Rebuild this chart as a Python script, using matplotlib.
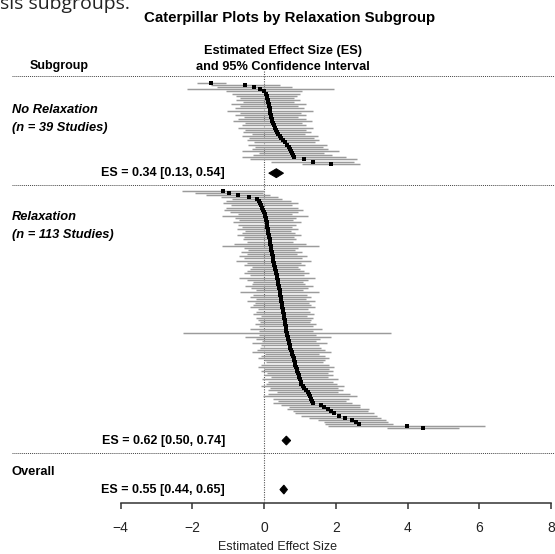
import matplotlib
matplotlib.use("Agg")
import matplotlib.pyplot as plt
from matplotlib.transforms import blended_transform_factory
from matplotlib.patches import Polygon

plt.rcParams['font.family'] = ['Liberation Sans', 'DejaVu Sans']

# ---------------- data ----------------
title = "Caterpillar Plots by Relaxation Subgroup"
xticks = [-4, -2, 0, 2, 4, 6, 8]
xlabel = "Estimated Effect Size"

# No Relaxation group (39 studies), sorted by effect size
norel_es = [-1.47, -0.52, -0.27, -0.11, 0.00, 0.04, 0.07, 0.09, 0.11, 0.12,
            0.13, 0.14, 0.15, 0.16, 0.17, 0.18, 0.19, 0.21, 0.23, 0.26,
            0.28, 0.31, 0.33, 0.36, 0.40, 0.44, 0.48, 0.52, 0.58, 0.64,
            0.70, 0.72, 0.74, 0.77, 0.80, 0.84, 1.10, 1.35, 1.86]
norel_hw = [0.40, 0.95, 1.05, 2.05, 1.05, 0.95, 0.85, 0.75, 0.90, 0.70,
            1.05, 0.80, 0.95, 1.20, 0.85, 1.00, 0.75, 0.95, 1.10, 0.80,
            0.90, 1.05, 0.85, 0.95, 0.75, 1.05, 0.90, 1.00, 0.85, 1.10,
            0.95, 1.05, 1.35, 0.90, 1.10, 1.45, 1.50, 1.15, 0.80]
norel_pool = (0.34, 0.13, 0.54)

# Relaxation group (113 studies), sorted by effect size
rel_es = [-1.15, -0.98, -0.73, -0.41, -0.20, -0.15, -0.11, -0.08, -0.05, -0.02,
          0.00, 0.02, 0.03, 0.04, 0.05, 0.07, 0.08, 0.09, 0.10, 0.11,
          0.12, 0.13, 0.14, 0.15, 0.16, 0.17, 0.18, 0.19, 0.20, 0.21,
          0.23, 0.24, 0.25, 0.26, 0.27, 0.28, 0.30, 0.31, 0.32, 0.34,
          0.35, 0.36, 0.38, 0.39, 0.40, 0.41, 0.42, 0.43, 0.44, 0.45,
          0.46, 0.47, 0.48, 0.49, 0.50, 0.51, 0.52, 0.53, 0.54, 0.55,
          0.56, 0.57, 0.58, 0.59, 0.60, 0.61, 0.62, 0.63, 0.65, 0.66,
          0.67, 0.69, 0.70, 0.72, 0.73, 0.75, 0.77, 0.78, 0.80, 0.82,
          0.84, 0.85, 0.87, 0.89, 0.91, 0.92, 0.94, 0.96, 0.98, 1.00,
          1.02, 1.04, 1.07, 1.11, 1.16, 1.21, 1.25, 1.28, 1.31, 1.33,
          1.36, 1.58, 1.68, 1.78, 1.86, 1.95, 2.09, 2.25, 2.46, 2.56,
          2.65, 3.97, 4.43]
rel_hw = [1.15, 0.95, 0.90, 0.80, 0.70, 0.90, 1.05, 0.85, 1.00, 1.10,
          0.95, 0.75, 1.20, 0.85, 0.75, 0.95, 0.80, 0.70, 0.85, 0.65,
          0.75, 0.90, 0.70, 0.75, 0.65, 1.00, 1.35, 0.75, 0.65, 0.85,
          0.70, 0.95, 0.80, 1.05, 0.75, 0.85, 0.65, 0.70, 0.80, 0.90,
          0.75, 1.05, 0.85, 0.70, 0.75, 0.95, 0.80, 0.65, 1.10, 0.75,
          0.85, 0.70, 0.95, 0.75, 0.80, 0.90, 0.70, 0.75, 0.85, 0.65,
          0.80, 0.75, 0.70, 0.85, 0.75, 1.00, 0.75, 2.90, 0.80, 1.20,
          0.90, 0.75, 1.05, 0.80, 0.85, 0.95, 1.10, 0.75, 0.90, 1.00,
          0.85, 0.80, 0.95, 1.05, 0.90, 1.00, 0.85, 0.95, 0.80, 1.05,
          0.90, 1.00, 1.15, 0.95, 1.05, 0.85, 1.15, 1.30, 1.05, 0.95,
          1.10, 1.10, 1.00, 1.15, 1.05, 1.10, 1.05, 1.00, 0.95, 0.90,
          0.95, 2.20, 1.00]
rel_pool = (0.62, 0.50, 0.74)

overall_pool = (0.55, 0.44, 0.65)

# ---------------- layout (row units) ----------------
W, H = 555, 554
fig = plt.figure(figsize=(W / 100, H / 100), dpi=100)
ax_bottom_px, ax_top_px = 502.5, 76
ax = fig.add_axes([0, 1 - ax_bottom_px / H, 1, (ax_bottom_px - ax_top_px) / H])
nrows = 201
ax.set_ylim(nrows, 0)
px_per_unit = 35.86
x_m4_px = 120.7
ax.set_xlim(-4 - x_m4_px / px_per_unit, 8 + (W - (x_m4_px + 12 * px_per_unit)) / px_per_unit)

row_g1 = 3.3
row_d1 = 45.8
row_sep1 = 51.4
row_g2 = 54.0
row_d2 = 171.8
row_sep2 = 177.9
row_ov = 186.4
row_d3 = 194.9

ci_color = '#9b9b9b'

def draw_group(es, hw, start):
    for k, (e, h) in enumerate(zip(es, hw)):
        y = start + k
        ax.plot([e - h, e + h], [y, y], color=ci_color, lw=1.05,
                solid_capstyle='butt', zorder=2)
    ys = [start + k for k in range(len(es))]
    ax.plot(es, ys, 's', color='black', ms=2.9, mew=0, zorder=3)

def diamond(pool, y, h=2.1):
    es, lo, hi = pool
    ax.add_patch(Polygon([(lo, y), (es, y - h), (hi, y), (es, y + h)],
                         closed=True, facecolor='black', edgecolor='black',
                         lw=0.7, zorder=4))

draw_group(norel_es, norel_hw, row_g1)
draw_group(rel_es, rel_hw, row_g2)
diamond(norel_pool, row_d1)
diamond(rel_pool, row_d2)
diamond(overall_pool, row_d3)

# vertical reference line at 0
ax.plot([0, 0], [-2.5, nrows], color='#555555', lw=0.8, ls=(0, (1, 1.2)),
        zorder=1, clip_on=False)

# horizontal dotted separators
tr_ax = blended_transform_factory(ax.transAxes, ax.transData)
for yy in [0, row_sep1, row_sep2]:
    ax.plot([12 / W, 1.0], [yy, yy], transform=tr_ax, color='#444444',
            lw=0.7, ls=(0, (1, 1)), zorder=1, clip_on=False)

# left labels
lab_kw = dict(transform=tr_ax, fontsize=9.3, fontweight='bold', va='center', ha='left')
ax.text(12 / W, (110 - 76) / 2.1194, "No Relaxation", style='italic', **lab_kw)
ax.text(12 / W, (128 - 76) / 2.1194, "(n = 39 Studies)", style='italic', **lab_kw)
ax.text(12 / W, (217 - 76) / 2.1194, "Relaxation", style='italic', **lab_kw)
ax.text(12 / W, (235 - 76) / 2.1194, "(n = 113 Studies)", style='italic', **lab_kw)
ax.text(12 / W, row_ov, "Overall", **lab_kw)

es_kw = dict(transform=tr_ax, fontsize=9, fontweight='bold', va='center', ha='right')
def es_text(pool):
    return "ES = %.2f [%.2f, %.2f]" % pool
ax.text(225 / W, row_d1, es_text(norel_pool), **es_kw)
ax.text(225 / W, row_d2, es_text(rel_pool), **es_kw)
ax.text(225 / W, row_d3, es_text(overall_pool), **es_kw)

# header texts
fig.text(290 / W, 1 - 18 / H, title, ha='center', va='center',
         fontsize=10.8, fontweight='bold')
fig.text(59 / W, 1 - 66 / H, "Subgroup", ha='center', va='center',
         fontsize=9, fontweight='bold')
fig.text(283 / W, 1 - 51 / H, "Estimated Effect Size (ES)", ha='center',
         va='center', fontsize=9.2, fontweight='bold')
fig.text(283 / W, 1 - 67 / H, "and 95% Confidence Interval", ha='center',
         va='center', fontsize=9.2, fontweight='bold')
fig.text(0.0, 1 - 9 / H, "sis subgroups.", ha='left', va='baseline',
         fontsize=14, family=['Open Sans', 'DejaVu Sans'], color='#222222')

# axis styling (R-like bottom axis only)
for s in ['top', 'left', 'right']:
    ax.spines[s].set_visible(False)
ax.spines['bottom'].set_bounds(-4, 8)
ax.spines['bottom'].set_color('#333333')
ax.spines['bottom'].set_linewidth(1.1)
ax.set_yticks([])
ax.set_xticks(xticks)
ax.set_xticklabels(["\u2212%d" % abs(t) if t < 0 else "%d" % t for t in xticks])
ax.tick_params(axis='x', direction='out', length=4.5, width=1.1,
               color='#333333', labelsize=10, pad=9, labelcolor='#222222')
ax.set_xlabel(xlabel, fontsize=9, labelpad=4, color='#222222')
ax.patch.set_alpha(0)

fig.savefig("out.png", dpi=100)
